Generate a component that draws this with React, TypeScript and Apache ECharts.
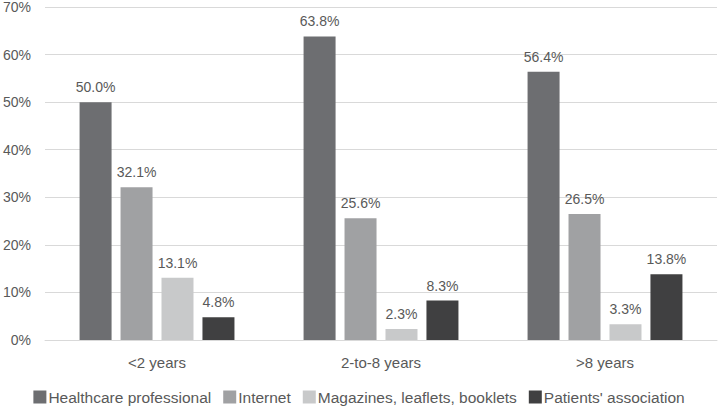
import React, { useEffect, useRef } from "react";
import * as echarts from "echarts";

const categories = ["<2 years", "2-to-8 years", ">8 years"];
const seriesNames = ["Healthcare professional", "Internet", "Magazines, leaflets, booklets", "Patients' association"];
const healthcare = [50.0, 63.8, 56.4];
const internet = [32.1, 25.6, 26.5];
const magazines = [13.1, 2.3, 3.3];
const patients = [4.8, 8.3, 13.8];
const colors = ["#6d6e71", "#a0a1a3", "#c8c9ca", "#404041"];

export default function App() {
  const ref = useRef<HTMLDivElement>(null);
  useEffect(() => {
    const chart = echarts.init(ref.current!, null, { renderer: "svg" });
    const font = "Liberation Sans";
    const data = [healthcare, internet, magazines, patients];
    chart.setOption({
      animation: false,
      textStyle: { fontFamily: font },
      grid: { left: 41, right: 1, top: 6, bottom: 67, containLabel: false },
      legend: {
        top: 389,
        padding: 0,
        left: "center",
        itemWidth: 13,
        itemHeight: 13,
        itemGap: 12,
        icon: "rect",
        textStyle: { fontSize: 15.5, color: "#595959", fontFamily: font, padding: [0, 0, 0, -3] },
        data: seriesNames,
      },
      xAxis: {
        type: "category",
        data: categories,
        axisLine: { lineStyle: { color: "#d9d9d9", width: 1 } },
        axisTick: { show: false },
        axisLabel: { fontSize: 15, color: "#595959", margin: 15, fontFamily: font },
      },
      yAxis: {
        type: "value",
        min: 0,
        max: 70,
        interval: 10,
        axisLine: { show: false },
        axisTick: { show: false },
        splitLine: { lineStyle: { color: "#d9d9d9", width: 1 } },
        axisLabel: { fontSize: 14, color: "#595959", margin: 14, formatter: "{value}%", fontFamily: font },
      },
      series: seriesNames.map((name, i) => ({
        name,
        type: "bar",
        data: data[i],
        barWidth: 32,
        barGap: "28%",
        itemStyle: { color: colors[i] },
        label: {
          show: true,
          position: "top",
          distance: 8,
          fontSize: 14,
          color: "#595959",
          fontFamily: font,
          formatter: (p: any) => p.value.toFixed(1) + "%",
        },
      })),
    });
    return () => chart.dispose();
  }, []);
  return <div ref={ref} style={{ width: 718, height: 407, position: "absolute", left: 0, top: 0 }} />;
}
